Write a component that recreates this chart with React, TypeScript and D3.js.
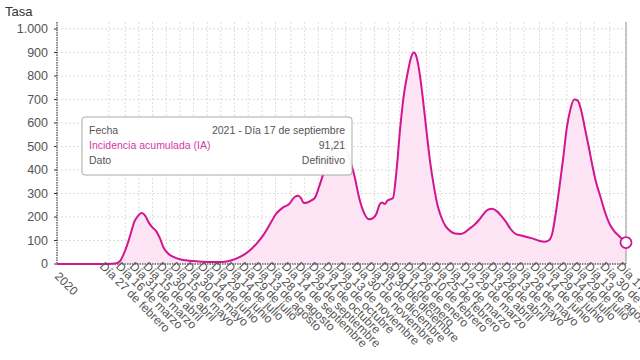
import React from 'react'
import * as d3 from 'd3'

const dates = [
  '2020-01-01', '2020-02-25', '2020-03-05', '2020-03-10', '2020-03-14', '2020-03-18', '2020-03-22',
  '2020-03-26', '2020-03-30', '2020-04-03', '2020-04-07', '2020-04-11', '2020-04-15', '2020-04-19',
  '2020-04-23', '2020-04-27', '2020-05-02', '2020-05-08', '2020-05-15', '2020-05-25', '2020-06-05',
  '2020-06-20', '2020-07-01', '2020-07-10', '2020-07-20', '2020-07-30', '2020-08-08', '2020-08-15',
  '2020-08-22', '2020-08-29', '2020-09-05', '2020-09-12', '2020-09-18', '2020-09-22', '2020-09-25',
  '2020-09-28', '2020-10-02', '2020-10-06', '2020-10-10', '2020-10-15', '2020-10-20', '2020-10-25',
  '2020-10-30', '2020-11-05', '2020-11-09', '2020-11-13', '2020-11-18', '2020-11-23', '2020-11-28',
  '2020-12-03', '2020-12-09', '2020-12-13', '2020-12-17', '2020-12-20', '2020-12-23', '2020-12-26',
  '2020-12-29', '2021-01-01', '2021-01-04', '2021-01-08', '2021-01-12', '2021-01-16', '2021-01-20',
  '2021-01-24', '2021-01-27', '2021-01-30', '2021-02-02', '2021-02-06', '2021-02-10', '2021-02-14',
  '2021-02-18', '2021-02-22', '2021-02-26', '2021-03-03', '2021-03-08', '2021-03-13', '2021-03-19',
  '2021-03-24', '2021-03-29', '2021-04-03', '2021-04-08', '2021-04-13', '2021-04-18', '2021-04-23',
  '2021-04-28', '2021-05-03', '2021-05-08', '2021-05-13', '2021-05-18', '2021-05-24', '2021-05-31',
  '2021-06-07', '2021-06-14', '2021-06-20', '2021-06-24', '2021-06-28', '2021-07-02', '2021-07-06',
  '2021-07-10', '2021-07-14', '2021-07-18', '2021-07-22', '2021-07-26', '2021-07-30', '2021-08-03',
  '2021-08-07', '2021-08-11', '2021-08-15', '2021-08-20', '2021-08-25', '2021-08-30', '2021-09-04',
  '2021-09-09', '2021-09-13', '2021-09-17',
]

const incidencia = [
  0, 0, 2, 12, 40, 80, 130,
  180, 205, 217, 205, 175, 155, 140,
  110, 70, 45, 30, 20, 14, 11,
  8, 9, 15, 30, 55, 90, 125,
  170, 215, 240, 255, 285, 290, 280,
  260, 262, 270, 280, 330, 390, 450,
  500, 525, 529, 500, 440, 370, 280,
  220, 190, 195, 215, 250, 262, 255,
  270, 275, 280, 400, 580, 720, 810,
  880, 900, 880, 820, 700, 560, 430,
  330, 250, 200, 160, 140, 130, 128,
  135, 150, 165, 185, 210, 230, 235,
  225, 205, 180, 150, 130, 122, 115,
  108, 98, 95, 100, 130, 220, 330,
  450, 580, 660, 700, 695, 650, 575,
  500, 420, 350, 285, 220, 170, 140,
  120, 105, 91.21,
]

const tickDates = [
  '2020-01-01', '2020-02-27', '2020-03-16', '2020-03-31', '2020-04-15', '2020-04-30', '2020-05-15',
  '2020-05-30', '2020-06-14', '2020-06-29', '2020-07-14', '2020-07-29', '2020-08-13', '2020-08-28',
  '2020-09-14', '2020-09-29', '2020-10-14', '2020-10-29', '2020-11-13', '2020-11-30', '2020-12-15',
  '2020-12-30', '2021-01-11', '2021-01-26', '2021-02-10', '2021-02-25', '2021-03-12', '2021-03-29',
  '2021-04-13', '2021-04-28', '2021-05-13', '2021-05-28', '2021-06-14', '2021-06-29', '2021-07-14',
  '2021-07-29', '2021-08-13', '2021-08-30', '2021-09-17',
]

const yTicks = [0, 100, 200, 300, 400, 500, 600, 700, 800, 900, 1000]

const meses = [
  'enero', 'febrero', 'marzo', 'abril', 'mayo', 'junio', 'julio',
  'agosto', 'septiembre', 'octubre', 'noviembre', 'diciembre',
]

const tooltipRows = [
  ['Fecha', '2021 - Día 17 de septiembre'],
  ['Incidencia acumulada (IA)', '91,21'],
  ['Dato', 'Definitivo'],
]

const parse = d3.timeParse('%Y-%m-%d')
const fmtY = (v: number) => (v >= 1000 ? d3.format(',')(v).replace(',', '.') : String(v))

export default function App() {
  const width = 640
  const height = 360
  const left = 57
  const right = 626
  const top = 22
  const bottom = 264
  const pink = '#d1168f'

  const data = dates.map((d, i) => ({ date: parse(d) as Date, value: incidencia[i] }))

  const x = d3.scaleTime()
    .domain([parse('2020-01-01') as Date, parse('2021-09-17') as Date])
    .range([left, right])
  const y = d3.scaleLinear().domain([0, 1000]).range([bottom, 29])

  const line = d3.line<{ date: Date; value: number }>()
    .x((d) => x(d.date))
    .y((d) => y(d.value))
    .curve(d3.curveMonotoneX)
  const area = d3.area<{ date: Date; value: number }>()
    .x((d) => x(d.date))
    .y0(bottom)
    .y1((d) => y(d.value))
    .curve(d3.curveMonotoneX)

  const last = data[data.length - 1]
  const font = 'Arial, "Liberation Sans", sans-serif'

  const tickLabel = (s: string, i: number) => {
    const d = parse(s) as Date
    if (i === 0) return '2020'
    return `Día ${d.getDate()} de ${meses[d.getMonth()]}`
  }

  return (
    <svg width={width} height={height} style={{ position: 'absolute', left: 0, top: 0, background: '#fff' }} fontFamily={font}>
      <text x={5} y={16} fontSize={13} fill="#333">Tasa</text>

      {yTicks.map((t) => (
        <g key={t}>
          <line x1={left} x2={right} y1={y(t)} y2={y(t)} stroke="#ddd" strokeDasharray="2,2" />
          <text x={48} y={y(t)} dy="0.35em" textAnchor="end" fontSize={12.5} fill="#555">{fmtY(t)}</text>
          <line x1={left - 3} x2={left} y1={y(t)} y2={y(t)} stroke="#333" />
        </g>
      ))}

      {tickDates.map((s) => (
        <line key={s} x1={x(parse(s) as Date)} x2={x(parse(s) as Date)} y1={top} y2={bottom} stroke="#ddd" strokeDasharray="2,2" />
      ))}

      <path d={area(data) ?? ''} fill="#fce4f4" />
      <line x1={right} x2={right} y1={top} y2={bottom} stroke="#999" />
      <line x1={left} x2={left} y1={top} y2={bottom} stroke="#222" strokeDasharray="1.5,1" />
      <line x1={left} x2={right} y1={bottom} y2={bottom} stroke="#222" strokeDasharray="1.5,1" />
      <path d={line(data) ?? ''} fill="none" stroke={pink} strokeWidth={2} />
      <circle cx={x(last.date)} cy={y(last.value)} r={5.5} fill="#fff" stroke={pink} strokeWidth={1.8} />

      {tickDates.map((s, i) => (
        <text
          key={s}
          transform={`translate(${x(parse(s) as Date) - (i === 0 ? 3 : 10)},${bottom + (i === 0 ? 13 : 3)}) rotate(45)`}
          fontSize={12}
          fill="#555"
        >
          {tickLabel(s, i)}
        </text>
      ))}

      <g transform="translate(82,117)">
        <rect x={0} y={0} width={270} height={58} rx={3} fill="rgba(255,255,255,0.95)" stroke="#aaa" />
        {tooltipRows.map(([k, v], i) => (
          <g key={k}>
            <text x={7} y={17 + i * 15} fontSize={10.5} fill={i === 1 ? '#d33aa5' : '#555'}>{k}</text>
            <text x={263} y={17 + i * 15} fontSize={10.5} textAnchor="end" fill="#555">{v}</text>
          </g>
        ))}
      </g>
    </svg>
  )
}
